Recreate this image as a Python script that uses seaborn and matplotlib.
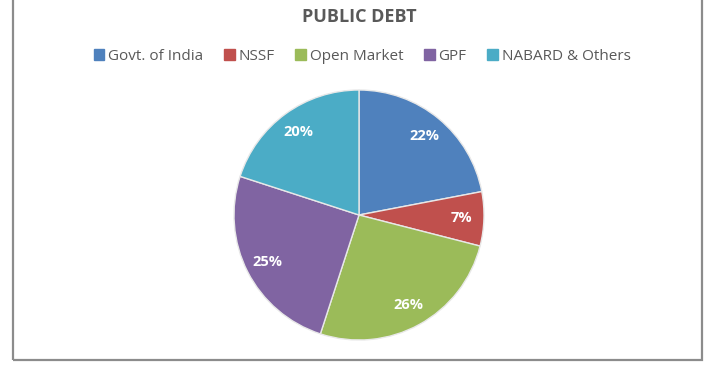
import matplotlib
matplotlib.use("Agg")
import matplotlib.pyplot as plt
import seaborn as sns
from matplotlib.patches import Rectangle, Patch

# data
categories = ["Govt. of India", "NSSF", "Open Market", "GPF", "NABARD & Others"]
shares = [22, 7, 26, 25, 20]
colors = ["#4F81BD", "#C0504D", "#9BBB59", "#8064A2", "#4BACC6"]

sns.set_theme(style="white")
plt.rcParams["font.family"] = ["Open Sans", "DejaVu Sans"]

fig = plt.figure(figsize=(7.1, 3.75), dpi=100)
fig.patch.set_facecolor("white")

# chart border (top edge lies above the picture)
bottom = 15 / 375
fig.patches.append(Rectangle((13 / 710, bottom), 689 / 710, 1.1 - bottom,
                             transform=fig.transFigure, fill=False,
                             edgecolor="#8c8c8c", linewidth=1.6))

# pie
cx, cy, r = 359, 215, 125
ax = fig.add_axes([(cx - r) / 710, (375 - cy - r) / 375, 2 * r / 710, 2 * r / 375])
wedges, _, autotexts = ax.pie(shares, colors=colors, startangle=90, counterclock=False,
                              autopct="%d%%", pctdistance=0.82,
                              wedgeprops=dict(edgecolor="#e8e8e8", linewidth=1.0))
for t in autotexts:
    t.set_color("white")
    t.set_fontsize(10.5)
    t.set_fontweight("bold")
ax.set_xlim(-1.0, 1.0)
ax.set_ylim(-1.0, 1.0)
ax.set_aspect("equal")
ax.axis("off")

fig.text(359 / 710, 1 - 17 / 375, "PUBLIC DEBT", ha="center", va="center",
         fontsize=13, fontweight="bold", color="#595959")

handles = [Patch(facecolor=c, edgecolor=c) for c in colors]
fig.legend(handles, categories, loc="center", bbox_to_anchor=(362 / 710, 1 - 56 / 375),
           ncol=5, frameon=False, fontsize=11, labelcolor="#595959",
           handlelength=0.7, handleheight=0.7, handletextpad=0.25, columnspacing=1.35)

plt.savefig("out.png", dpi=100)
